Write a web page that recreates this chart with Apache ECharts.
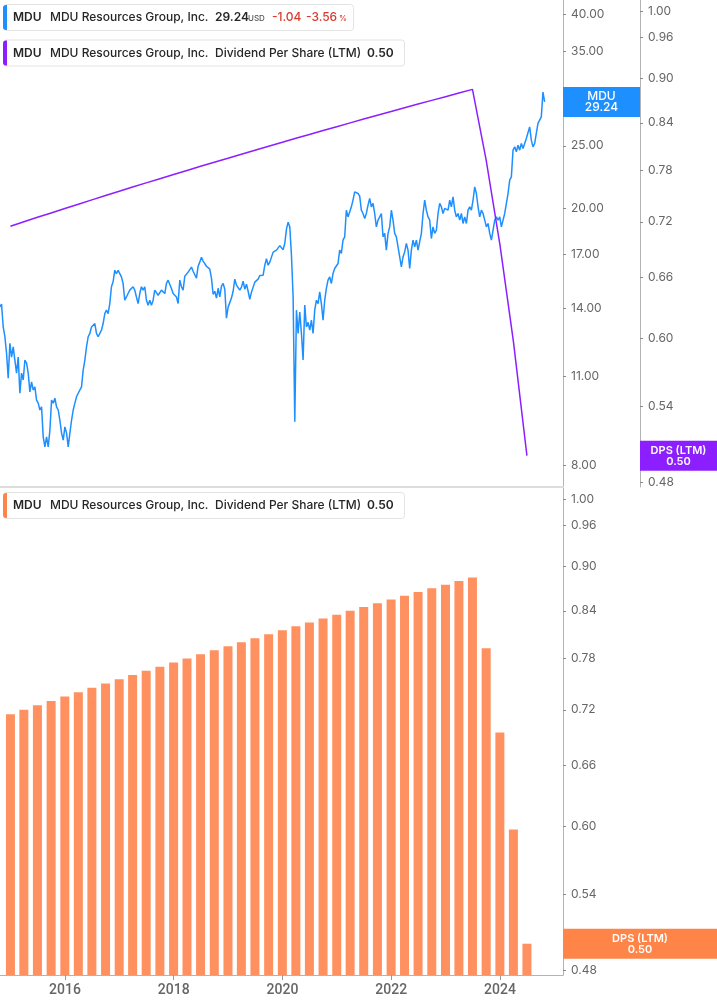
<!DOCTYPE html>
<html><head><meta charset="utf-8">
<script src="https://cdn.jsdelivr.net/npm/echarts@6/dist/echarts.min.js"></script>
<style>html,body{margin:0;padding:0;background:#fff}#c{width:717px;height:1005px}</style>
</head><body><div id="c"></div>
<script>
// ---------------- data ----------------
const ticker = 'MDU';
const company = 'MDU Resources Group, Inc.';
const lastPrice = 29.24;
const priceChange = '-1.04';
const priceChangePct = '-3.56';
const dpsName = 'Dividend Per Share (LTM)';
const dpsLast = 0.50;

const priceTicks = [8, 11, 14, 17, 20, 25, 30, 35, 40];
const dpsTicks = [0.48, 0.54, 0.60, 0.66, 0.72, 0.78, 0.84, 0.90, 0.96, 1.00];
const yearTicks = [2016, 2018, 2020, 2022, 2024];

const dpsDates = [
  '2014-12-31',
  '2015-03-31','2015-06-30','2015-09-30','2015-12-31',
  '2016-03-31','2016-06-30','2016-09-30','2016-12-31',
  '2017-03-31','2017-06-30','2017-09-30','2017-12-31',
  '2018-03-31','2018-06-30','2018-09-30','2018-12-31',
  '2019-03-31','2019-06-30','2019-09-30','2019-12-31',
  '2020-03-31','2020-06-30','2020-09-30','2020-12-31',
  '2021-03-31','2021-06-30','2021-09-30','2021-12-31',
  '2022-03-31','2022-06-30','2022-09-30','2022-12-31',
  '2023-03-31','2023-06-30','2023-09-30','2023-12-31',
  '2024-03-31','2024-06-30'
];
const dpsValues = [
  0.715, 0.72, 0.725, 0.73, 0.735, 0.74, 0.745, 0.75, 0.755, 0.76,
  0.765, 0.77, 0.775, 0.78, 0.785, 0.79, 0.795, 0.80, 0.805, 0.81,
  0.815, 0.82, 0.825, 0.83, 0.835, 0.84, 0.845, 0.85, 0.855, 0.86,
  0.865, 0.87, 0.875, 0.88, 0.885, 0.7925, 0.695, 0.5975, 0.50
];

const priceStartDate = '2014-10-21';
const priceStepDays = 11.19;
const priceValues = [
  14.07,14.21,13.10,12.65,11.93,10.91,12.36,11.76,12.20,11.64,
  11.11,11.77,10.34,11.11,10.84,11.64,11.51,11.11,10.39,10.77,
  10.46,10.58,10.09,9.98,9.74,9.85,8.85,8.54,8.85,8.54,
  9.06,10.09,9.98,10.16,9.85,9.74,9.39,8.97,8.75,9.17,
  8.97,8.54,8.97,9.39,9.74,9.98,10.21,10.34,10.39,10.58,
  11.23,11.64,12.20,12.65,12.80,13.10,13.03,13.26,12.80,12.65,
  12.65,12.95,13.26,13.74,13.91,13.74,14.24,15.12,15.39,16.04,
  15.85,16.04,15.85,15.66,15.30,14.41,14.58,14.76,14.94,14.85,
  15.12,14.94,14.58,14.24,14.76,15.12,14.94,15.12,14.41,14.16,
  14.41,14.16,14.41,14.94,15.03,14.67,14.76,14.94,15.03,14.76,
  15.30,15.48,15.57,15.03,14.76,14.85,14.58,14.24,15.48,15.12,
  14.94,15.70,15.76,15.93,15.82,16.22,15.98,15.93,15.59,16.27,
  16.51,16.80,16.57,16.62,16.27,16.33,16.10,15.59,14.72,14.88,
  14.52,15.04,14.58,15.15,15.30,14.99,13.52,14.06,14.01,14.52,
  14.88,15.54,15.21,15.26,14.94,15.10,15.42,14.99,15.26,14.88,
  14.46,14.83,15.10,15.37,15.31,15.54,15.74,15.84,15.76,16.33,
  16.71,16.33,16.51,16.62,17.11,17.23,17.23,17.32,17.51,17.63,
  17.26,17.66,18.57,19.04,18.72,16.92,14.58,9.34,13.91,12.80,
  13.81,12.80,11.64,14.16,13.10,13.32,12.95,13.42,12.80,13.91,
  14.41,14.24,14.85,14.24,13.42,14.41,15.03,15.48,15.66,15.30,
  15.85,16.14,16.04,16.43,17.23,17.03,17.86,18.07,19.87,19.40,
  19.75,20.11,20.60,21.21,21.09,21.09,20.89,19.87,19.64,19.29,
  19.64,20.23,20.72,20.11,20.36,19.64,18.72,19.18,19.40,19.64,
  18.07,18.29,17.23,18.29,18.72,19.87,19.18,18.29,18.07,17.43,
  16.82,16.23,16.82,17.12,17.65,17.23,16.14,17.23,17.86,17.43,
  17.86,17.23,17.33,18.29,19.64,20.60,19.87,19.40,19.18,17.96,
  18.72,18.29,18.50,19.64,20.36,20.11,19.64,20.00,20.11,19.87,
  20.60,20.11,20.84,19.87,19.40,19.64,19.18,19.64,18.95,19.40,
  18.95,19.87,20.11,19.87,20.60,21.60,21.09,20.11,19.40,19.87,
  19.64,19.18,18.72,18.95,18.29,17.86,18.50,19.18,19.40,19.18,
  19.40,18.72,19.18,19.64,20.36,21.09,22.12,22.38,24.62,24.91,
  24.47,25.06,24.62,25.21,24.77,24.91,25.67,25.82,26.75,25.51,
  24.91,25.21,26.13,27.08,27.40,27.72,30.28,29.24
];

// ---------------- helpers ----------------
const L = Math.log10;
function toYear(ms) {
  const d = new Date(ms); const y = d.getUTCFullYear();
  const s = Date.UTC(y, 0, 1), e = Date.UTC(y + 1, 0, 1);
  return y + (ms - s) / (e - s);
}
const t0 = Date.parse(priceStartDate + 'T00:00:00Z');
const priceData = priceValues.map((v, i) => [toYear(t0 + i * priceStepDays * 86400000), L(v)]);
const dpsData = dpsValues.map((v, i) => [toYear(Date.parse(dpsDates[i] + 'T00:00:00Z')), L(v)]);

const X_MIN = 2014.805, X_MAX = 2025.158;
const P_MIN = 7.40, P_MAX = 42.07;
const D_MIN = 0.4762, D_MAX = 1.0173;

const C_PRICE = '#1E8FFF', C_DPS = '#8C1FFF', C_BAR = '#FF9160', C_BAR_LBL = '#FF8447';
const FONT = 'Inter, "Noto Sans", sans-serif';

function logAxis(gridIndex, min, max, ticks, offset) {
  return {
    type: 'value', gridIndex, position: 'right', offset: offset || 0,
    min: L(min), max: L(max),
    axisLine: { show: true, onZero: false, lineStyle: { color: '#b3b3b3', width: 1 } },
    axisTick: { show: true, customValues: ticks.map(L), length: 3, lineStyle: { color: '#8a8a8a' } },
    axisLabel: { show: true, customValues: ticks.map(L), formatter: v => Math.pow(10, v).toFixed(2),
      margin: 8, fontFamily: FONT, fontSize: 12, color: '#666' },
    splitLine: { show: false }
  };
}

const chart = echarts.init(document.getElementById('c'), null, { renderer: 'canvas' });
chart.setOption({
  animation: false,
  backgroundColor: '#fff',
  grid: [
    { left: 0, top: 0, width: 563, height: 487 },
    { left: 0, top: 488, width: 563, height: 487 }
  ],
  xAxis: [
    { type: 'value', gridIndex: 0, min: X_MIN, max: X_MAX,
      axisLine: { show: true, onZero: false, lineStyle: { color: '#dddddd', width: 2 } },
      axisTick: { show: false }, axisLabel: { show: false }, splitLine: { show: false } },
    { type: 'value', gridIndex: 1, min: X_MIN, max: X_MAX,
      axisLine: { show: true, onZero: false, lineStyle: { color: '#b3b3b3', width: 1 } },
      axisTick: { show: true, customValues: yearTicks, length: 5, lineStyle: { color: '#999' } },
      axisLabel: { show: true, customValues: yearTicks, formatter: v => String(Math.round(v)),
        margin: 8, fontFamily: 'Roboto, sans-serif', fontWeight: 500, fontSize: 14, color: '#666' },
      splitLine: { show: false } }
  ],
  yAxis: [
    logAxis(0, P_MIN, P_MAX, priceTicks, 0),
    logAxis(0, D_MIN, D_MAX, dpsTicks, 77),
    logAxis(1, D_MIN, D_MAX, dpsTicks, 0)
  ],
  series: [
    { name: 'price', type: 'line', xAxisIndex: 0, yAxisIndex: 0, data: priceData,
      showSymbol: false, symbol: 'none', lineStyle: { color: C_PRICE, width: 1.5 }, z: 3 },
    { name: 'dps', type: 'line', xAxisIndex: 0, yAxisIndex: 1, data: dpsData,
      showSymbol: false, symbol: 'none', lineStyle: { color: C_DPS, width: 1.5 }, z: 4 },
    { name: 'dpsBars', type: 'custom', xAxisIndex: 1, yAxisIndex: 2, data: dpsData,
      encode: { x: 0, y: 1 },
      renderItem: (params, api) => {
        const top = api.coord([api.value(0), api.value(1)]);
        const base = api.coord([api.value(0), L(D_MIN)]);
        const w = 9;
        return { type: 'rect', shape: { x: top[0] - w / 2, y: top[1], width: w, height: base[1] - top[1] },
          style: { fill: C_BAR } };
      } }
  ]
});

// ---------------- overlay labels ----------------
const yMDU = chart.convertToPixel({ yAxisIndex: 0 }, L(lastPrice));
const yDpsTop = chart.convertToPixel({ yAxisIndex: 1 }, L(dpsLast));
const yDpsBot = chart.convertToPixel({ yAxisIndex: 2 }, L(dpsLast));

function txt(x, y, text, font, fill, align) {
  return { type: 'text', x, y, z: 100,
    style: { text, font, fill, align: align || 'left', verticalAlign: 'middle' } };
}
function legendBox(top, width, color, items) {
  const children = [
    { type: 'rect', shape: { x: 3.5, y: top + 0.5, width, height: 26, r: 3 },
      style: { fill: '#fff', stroke: '#e3e3e3', lineWidth: 1 }, z: 99 },
    { type: 'rect', shape: { x: 3, y: top + 1, width: 4, height: 25, r: [3, 0, 0, 3] },
      style: { fill: color }, z: 100 }
  ];
  items.forEach(it => children.push(txt(it[0], top + 13.5 + (it[4] || 0), it[1], it[2], it[3])));
  return { type: 'group', children };
}
const fB = '600 12px ' + FONT, fM = '500 12px ' + FONT, fS = '500 8px ' + FONT;
const dark = '#262626', red = '#d93a30';
const commonItems = [[13, ticker, fB, dark], [50, company, fM, dark]];

function valueBox(x, w, yc, color, l1, l2, font) {
  return { type: 'group', children: [
    { type: 'rect', shape: { x, y: yc - 15, width: w, height: 30 }, style: { fill: color }, z: 100 },
    txt(x + w / 2, yc - 5.5, l1, font, '#fff', 'center'),
    txt(x + w / 2, yc + 5.5, l2, font, '#fff', 'center')
  ] };
}

chart.setOption({
  graphic: [
    legendBox(4, 350, C_PRICE, commonItems.concat([
      [215, lastPrice.toFixed(2), fB, dark],
      [248, 'USD', fS, '#555', 1],
      [272, priceChange, fM, red],
      [306, priceChangePct, fM, red],
      [339, '%', fS, red, 1]
    ])),
    legendBox(39.5, 401, C_DPS, commonItems.concat([
      [215, dpsName, fM, dark],
      [367, dpsLast.toFixed(2), fB, dark]
    ])),
    legendBox(492, 401, C_BAR_LBL, commonItems.concat([
      [215, dpsName, fM, dark],
      [367, dpsLast.toFixed(2), fB, dark]
    ])),
    valueBox(563, 77, yMDU, C_PRICE, ticker, lastPrice.toFixed(2), '500 12px ' + FONT),
    valueBox(640, 77, yDpsTop, C_DPS, 'DPS (LTM)', dpsLast.toFixed(2), '600 11px ' + FONT),
    valueBox(563, 154, yDpsBot, C_BAR_LBL, 'DPS (LTM)', dpsLast.toFixed(2), '600 11px ' + FONT)
  ]
});
</script>
</body></html>
